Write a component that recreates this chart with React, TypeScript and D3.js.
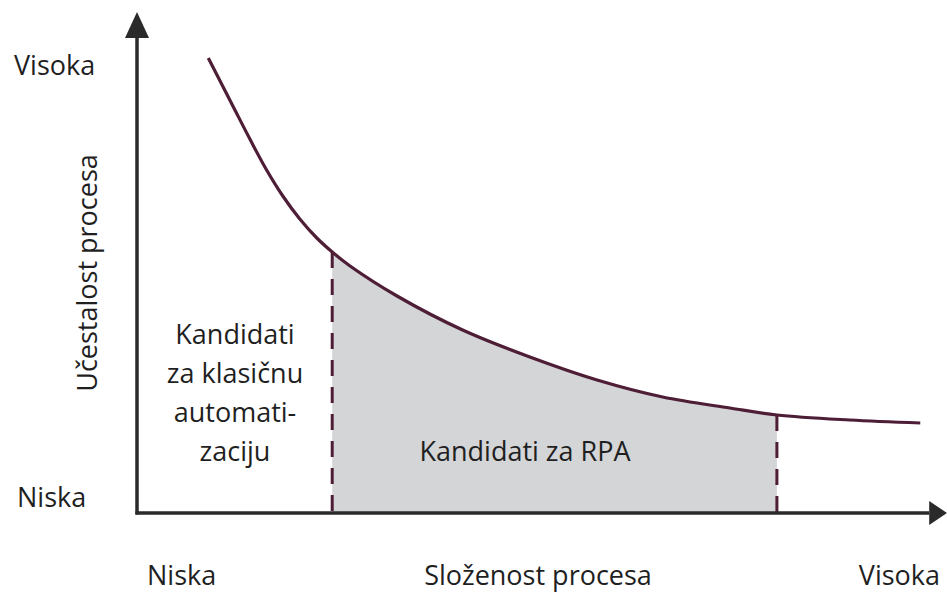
import React from "react";
import * as d3 from "d3";

// Process complexity (x, 0–100) vs. process frequency (y, 0–100)
const complexity = [8.8, 11.9, 14.0, 16.0, 18.0, 20.1, 22.2, 24.1, 26.3, 32.1, 40.2, 48.5, 56.8, 64.9, 73.2, 79.0, 88.0, 96.7];
const frequency = [91.0, 81.2, 74.6, 68.6, 63.4, 58.8, 55.0, 52.2, 49.4, 43.4, 36.6, 31.2, 26.6, 23.2, 21.0, 19.6, 18.6, 18.0];
const rpaRange = [24.1, 79.0];

const yTickLabels = ["Niska", "Visoka"];
const xTickLabels = ["Niska", "Visoka"];
const xTitle = "Složenost procesa";
const yTitle = "Učestalost procesa";
const classicLabel = ["Kandidati", "za klasičnu", "automati-", "zaciju"];
const rpaLabel = "Kandidati za RPA";

const W = 947;
const H = 592;
const FONT = "'Open Sans', sans-serif";
const FS = 27;

export default function App() {
  const x = d3.scaleLinear().domain([0, 100]).range([137, 947]);
  const y = d3.scaleLinear().domain([0, 100]).range([513, 13]);
  const pts = complexity.map((c, i) => [c, frequency[i]] as [number, number]);

  const curve = d3.curveCatmullRom.alpha(0.5);
  const line = d3
    .line<[number, number]>()
    .x((d) => x(d[0]))
    .y((d) => y(d[1]))
    .curve(curve);
  const area = d3
    .area<[number, number]>()
    .x((d) => x(d[0]))
    .y0(y(0))
    .y1((d) => y(d[1]))
    .curve(curve);

  const f0 = frequency[complexity.indexOf(rpaRange[0])];
  const f1 = frequency[complexity.indexOf(rpaRange[1])];

  const axisColor = "#2a2a2a";
  const curveColor = "#4e1d36";
  const textColor = "#1f1f1f";
  const x0 = x(0);
  const yb = y(0);

  return (
    <svg
      width={W}
      height={H}
      style={{ position: "absolute", left: 0, top: 0, background: "#fff" }}
    >
      <defs>
        <clipPath id="rpaClip">
          <rect x={x(rpaRange[0])} y={0} width={x(rpaRange[1]) - x(rpaRange[0])} height={H} />
        </clipPath>
      </defs>
      <rect width={W} height={H} fill="#fff" />
      <path d={area(pts) || ""} fill="#d3d5d7" clipPath="url(#rpaClip)" />
      {[
        [rpaRange[0], f0],
        [rpaRange[1], f1],
      ].map(([c, f], i) => (
        <line
          key={i}
          x1={x(c)}
          x2={x(c)}
          y1={y(f)}
          y2={yb}
          stroke={curveColor}
          strokeWidth={3}
          strokeDasharray="16 11"
        />
      ))}
      <path d={line(pts) || ""} fill="none" stroke={curveColor} strokeWidth={3.2} />

      {/* axes */}
      <line x1={x0} x2={x0} y1={yb + 1.5} y2={y(95)} stroke={axisColor} strokeWidth={3.5} />
      <path d={`M${x0},${y(100) - 1} L${x0 - 12},${y(95)} L${x0 + 12},${y(95)} Z`} fill={axisColor} />
      <line x1={x0 - 1.5} x2={x(97.8)} y1={yb} y2={yb} stroke={axisColor} strokeWidth={3.5} />
      <path d={`M${x(100)},${yb} L${x(97.8)},${yb - 12} L${x(97.8)},${yb + 12} Z`} fill={axisColor} />

      <g fontFamily={FONT} fontSize={FS} fill={textColor}>
        {/* y tick labels */}
        <text x={14} y={75}>{yTickLabels[1]}</text>
        <text x={17} y={507}>{yTickLabels[0]}</text>
        {/* y title */}
        <text transform="translate(97,273) rotate(-90)" textAnchor="middle">{yTitle}</text>
        {/* x labels */}
        <text x={147} y={585}>{xTickLabels[0]}</text>
        <text x={538} y={585} textAnchor="middle">{xTitle}</text>
        <text x={940} y={585} textAnchor="end">{xTickLabels[1]}</text>
        {/* region labels */}
        {classicLabel.map((t, i) => (
          <text key={i} x={235} y={344 + i * 39} textAnchor="middle">{t}</text>
        ))}
        <text x={525} y={461} textAnchor="middle">{rpaLabel}</text>
      </g>
    </svg>
  );
}
